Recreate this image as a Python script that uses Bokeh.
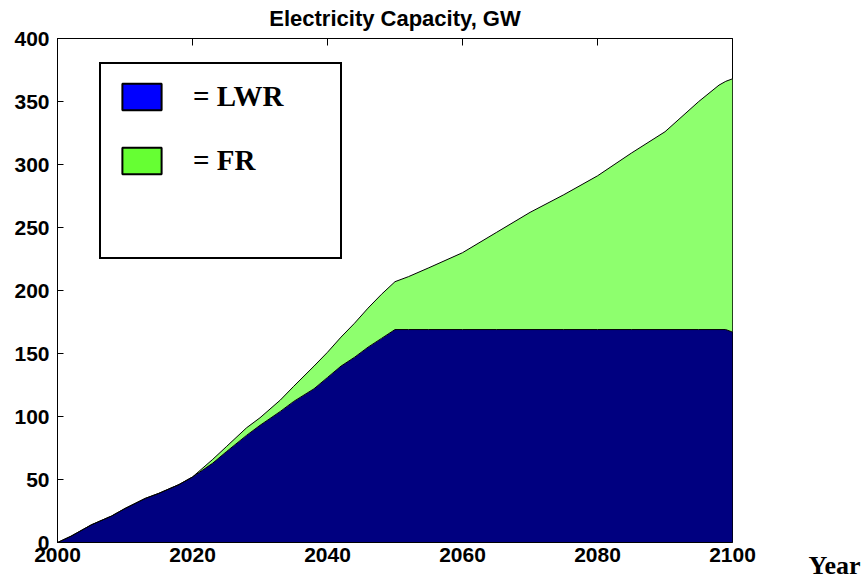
from bokeh.plotting import figure
from bokeh.models import Range1d, LinearAxis, FixedTicker, Legend, LegendItem, Title
from bokeh.embed import file_html
from bokeh.resources import INLINE

# ---- data ----
years = [2000, 2002, 2005, 2008, 2010, 2013, 2015, 2018, 2020,
         2023, 2025, 2028, 2030, 2033, 2035, 2038, 2040,
         2042, 2044, 2046, 2048, 2050,
         2052, 2055, 2060, 2065, 2070, 2075, 2080, 2085, 2090, 2095, 2098, 2099, 2100]
lwr = [0, 5, 14, 21, 27, 35, 39, 46, 52,
       63, 72, 85, 93, 104, 112, 122, 131,
       140, 147, 155, 162, 169,
       169, 169, 169, 169, 169, 169, 169, 169, 169, 169, 169, 169, 167]
total = [0, 5, 14, 21, 27, 35, 39, 46, 52,
         66, 76, 91, 99, 113, 124, 140, 151,
         163, 174, 186, 197, 207,
         211, 218, 230, 246, 262, 276, 291, 309, 326, 350, 363, 366, 368]
x_ticks = [2000, 2020, 2040, 2060, 2080, 2100]
y_ticks = [0, 50, 100, 150, 200, 250, 300, 350, 400]
labels = ["= LWR", "= FR"]
title_text = "Electricity Capacity, GW"
x_label = "Year"

NAVY = "#000080"
LIGHT_GREEN = "#8EFF6E"
SW_BLUE = "#0000FF"
SW_GREEN = "#66FF33"
NAN = float("nan")

p = figure(width=864, height=580,
           x_range=Range1d(2000, 2100), y_range=Range1d(0, 400),
           output_backend="svg", toolbar_location=None,
           min_border_left=57, min_border_right=132, min_border_top=38, min_border_bottom=38,
           x_axis_location=None, y_axis_location=None)
p.grid.visible = False
p.outline_line_color = "black"
p.outline_line_width = 1
p.background_fill_color = "white"
p.border_fill_color = "white"

p.varea(x=years, y1=0, y2=lwr, fill_color=NAVY)
p.varea(x=years, y1=lwr, y2=total, fill_color=LIGHT_GREEN)
p.line(years, total, line_color="black", line_width=1)
p.line(years, lwr, line_color="black", line_width=1)

font = "Liberation Sans"

def style_axis(ax, ticks, show_labels=True, tick_in=6):
    ax.ticker = FixedTicker(ticks=ticks)
    ax.axis_line_color = "black"
    ax.major_tick_line_color = "black"
    ax.major_tick_line_width = 1
    ax.major_tick_in = tick_in
    ax.major_tick_out = 0
    ax.minor_tick_line_color = None
    ax.major_label_text_font = font
    ax.major_label_text_font_style = "bold"
    ax.major_label_text_font_size = "21px" if show_labels else "0px"
    ax.major_label_text_color = "black"

xb = LinearAxis()
style_axis(xb, x_ticks, True, 0)
xb.major_label_standoff = 5
p.add_layout(xb, "below")

yl = LinearAxis()
style_axis(yl, y_ticks, True, 6)
yl.major_label_standoff = 8
p.add_layout(yl, "left")

xt = LinearAxis()
style_axis(xt, x_ticks, False, 7)
xt.major_label_standoff = 0
xt.major_label_text_alpha = 0
p.add_layout(xt, "above")

p.title.text = title_text
p.title.align = "center"
p.title.vertical_align = "top"
p.title.text_font = font
p.title.text_font_style = "bold"
p.title.text_font_size = "22px"
p.title.text_color = "black"
p.title.standoff = 11

# "Year" as a second title in the bottom panel, shifted to the right of the frame
year_title = Title(text=x_label, align="left", offset=751, standoff=-28, vertical_align="top",
                   text_font="Liberation Serif", text_font_style="bold",
                   text_font_size="26px", text_color="black")
p.add_layout(year_title, "below")

# legend swatches (glyph-only renderers; NaN data so nothing is drawn in the plot)
r_lwr = p.quad(left=[NAN], right=[NAN], top=[NAN], bottom=[NAN], fill_color=SW_BLUE, line_color="black", line_width=2)
r_fr = p.quad(left=[NAN], right=[NAN], top=[NAN], bottom=[NAN], fill_color=SW_GREEN, line_color="black", line_width=2)
r_blank = p.quad(left=[NAN], right=[NAN], top=[NAN], bottom=[NAN], fill_alpha=0, line_alpha=0)
legend = Legend(items=[LegendItem(label=labels[0], renderers=[r_lwr], index=0),
                       LegendItem(label=labels[1], renderers=[r_fr], index=0),
                       LegendItem(label=" ", renderers=[r_blank], index=0)],
                location=(42, 283))
legend.glyph_width = 49
legend.glyph_height = 33
legend.spacing = 31
legend.padding = 16
legend.margin = 0
legend.label_standoff = 27
legend.label_width = 131
legend.label_text_font = "Liberation Serif"
legend.label_text_font_style = "bold"
legend.label_text_font_size = "29px"
legend.label_text_color = "black"
legend.border_line_color = "black"
legend.border_line_alpha = 1
legend.border_line_width = 2
legend.background_fill_color = "white"
legend.background_fill_alpha = 1
p.add_layout(legend)

open("out.html", "w").write(file_html(p, INLINE))
